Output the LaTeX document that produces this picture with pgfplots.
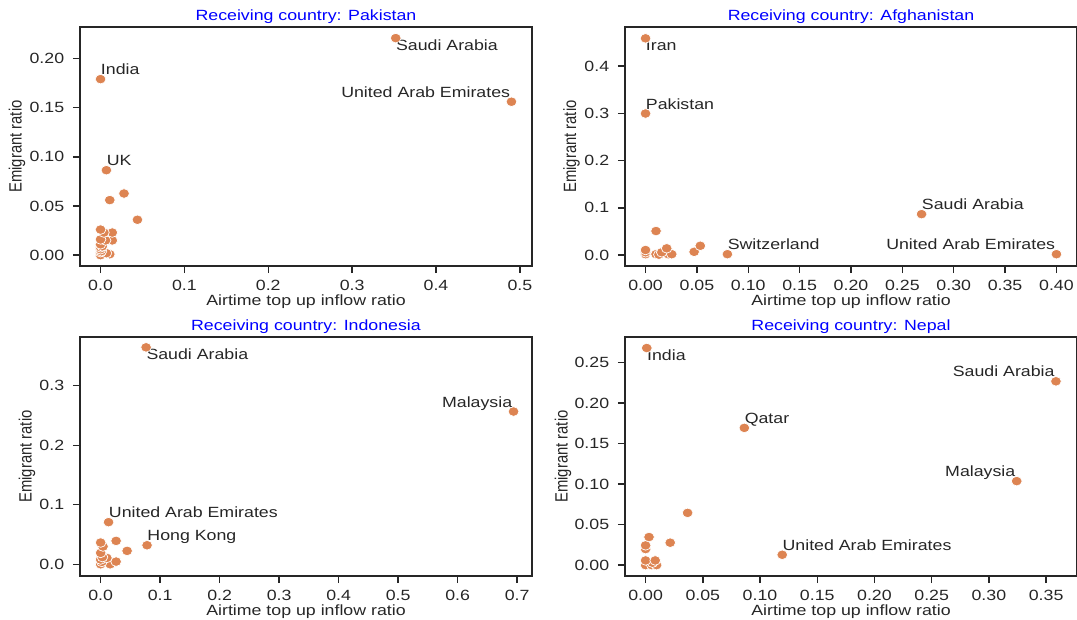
\documentclass[border=0pt]{standalone}
\usepackage{fontspec}
\setmainfont{Liberation Sans}[FakeStretch=1.2]
\newfontfamily\ylabfont{Liberation Sans}
\usepackage{graphicx}
\usepackage{pgfplots}
\pgfplotsset{compat=1.18}
\definecolor{c15}{HTML}{262626}
\definecolor{dot}{HTML}{DD8452}
\newcommand{\fs}{\fontsize{7.4}{8.5}\selectfont}
\tikzset{lab/.style={font=\fs, text=c15, inner sep=0pt}}
\pgfplotsset{
  every axis title/.style={at={(axis description cs:0.5,1)}, anchor=base, yshift=3.3pt, font=\fs, text=blue},
  every axis x label/.style={at={(axis description cs:0.5,0)}, anchor=base, yshift=-19.8pt, font=\fs, text=c15},
  every axis y label/.style={rotate=90, anchor=center, font=\ylabfont\fs, text=c15},
  panel/.style={
    width=226pt, height=119.5pt, scale only axis, anchor=south west, clip=false,
    axis line style={draw=c15, line width=0.7pt},
    every tick/.style={draw=c15, line width=0.7pt},
    tick align=outside, major tick length=3.6pt, tick pos=left,
    ticklabel style={font=\fs, text=c15},
    yticklabel style={xshift=-0.8pt},
    /pgf/number format/assume math mode=true,
    xlabel={Airtime top up inflow ratio}, ylabel={\scalebox{1}[1.2]{Emigrant ratio}},
  },
  yl/.style={ylabel style={at={(axis description cs:#1,0.5)}}},
  xp/.style={xticklabel style={/pgf/number format/.cd, fixed, fixed zerofill, precision=#1}},
  yp/.style={yticklabel style={/pgf/number format/.cd, fixed, fixed zerofill, precision=#1}},
  pts/.style={only marks, mark=*, mark size=2.4pt, mark options={fill=dot, draw=white, line width=0.35pt, xscale=1.12}},
}
\begin{document}
\begin{tikzpicture}
\useasboundingbox (0,0) rectangle (538.5pt,310pt);
% Panel 1: Pakistan
\begin{axis}[panel, at={(40pt,177pt)},
  title={Receiving country: Pakistan},
  xmin=-0.0245, xmax=0.5145, ymin=-0.011, ymax=0.232,
  xtick={0,0.1,0.2,0.3,0.4,0.5}, ytick={0,0.05,0.1,0.15,0.2},
  xp=1, yp=2, yl=-0.1394]
\addplot[pts] coordinates {
(0.0,0.0) (0.011,0.001) (0.007,0.002) (0.0,0.003) (0.001,0.004) (0.0,0.006) (0.0,0.008) (0.002,0.009)
(0.0,0.011) (0.014,0.015) (0.006,0.015) (0.0,0.016) (0.014,0.023) (0.004,0.023) (0.0,0.026)
(0.044,0.036) (0.011,0.056) (0.028,0.0627) (0.007,0.0864) (0.0,0.179) (0.490,0.156) (0.352,0.2207)
};
\node[lab, anchor=base west, yshift=-6.3pt] at (axis cs:0.352,0.2207) {Saudi Arabia};
\node[lab, anchor=base east, xshift=-0.5pt, yshift=2.25pt] at (axis cs:0.490,0.156) {United Arab Emirates};
\node[lab, anchor=base west, yshift=2.25pt] at (axis cs:0.0,0.179) {India};
\node[lab, anchor=base west, yshift=2.25pt] at (axis cs:0.007,0.0864) {UK};
\end{axis}
% Panel 2: Afghanistan
\begin{axis}[panel, at={(312.5pt,177pt)},
  title={Receiving country: Afghanistan},
  xmin=-0.02, xmax=0.42, ymin=-0.023, ymax=0.483,
  xtick={0,0.05,0.1,0.15,0.2,0.25,0.3,0.35,0.4}, ytick={0,0.1,0.2,0.3,0.4},
  xp=2, yp=1, yl=-0.1181]
\addplot[pts] coordinates {
(0,0.002) (0.0102,0.002) (0.013,0.001) (0.022,0.002) (0.0255,0.002) (0.0158,0.006) (0,0.006) (0,0.0108)
(0.0206,0.0144) (0.0473,0.007) (0.0533,0.0198) (0.0102,0.051) (0.0797,0.002) (0.40,0.002)
(0.2687,0.0868) (0,0.2998) (0,0.459)
};
\node[lab, anchor=base west, yshift=-6.3pt] at (axis cs:0,0.459) {Iran};
\node[lab, anchor=base west, yshift=2.25pt] at (axis cs:0,0.2998) {Pakistan};
\node[lab, anchor=base west, yshift=2.25pt] at (axis cs:0.2687,0.0868) {Saudi Arabia};
\node[lab, anchor=base west, yshift=2.25pt] at (axis cs:0.0797,0.002) {Switzerland};
\node[lab, anchor=base east, xshift=-0.5pt, yshift=2.25pt] at (axis cs:0.40,0.002) {United Arab Emirates};
\end{axis}
% Panel 3: Indonesia
\begin{axis}[panel, at={(40pt,22pt)},
  title={Receiving country: Indonesia},
  xmin=-0.0347, xmax=0.725, ymin=-0.0197, ymax=0.382,
  xtick={0,0.1,0.2,0.3,0.4,0.5,0.6,0.7}, ytick={0,0.1,0.2,0.3},
  xp=1, yp=1, yl=-0.1173]
\addplot[pts] coordinates {
(0,0) (0.016,0) (0.026,0.0045) (0.002,0.004) (0,0.008) (0.0104,0.0107) (0.003,0.012) (0,0.0191)
(0.004,0.0298) (0,0.0365) (0.0445,0.0225) (0.026,0.0393) (0.078,0.032) (0.0133,0.0708)
(0.694,0.2567) (0.0764,0.3646)
};
\node[lab, anchor=base west, yshift=-6.3pt] at (axis cs:0.0764,0.3646) {Saudi Arabia};
\node[lab, anchor=base east, xshift=-0.5pt, yshift=2.25pt] at (axis cs:0.694,0.2567) {Malaysia};
\node[lab, anchor=base west, yshift=2.25pt] at (axis cs:0.0133,0.0708) {United Arab Emirates};
\node[lab, anchor=base west, yshift=2.25pt] at (axis cs:0.078,0.032) {Hong Kong};
\end{axis}
% Panel 4: Nepal
\begin{axis}[panel, at={(312.5pt,22pt)},
  title={Receiving country: Nepal},
  xmin=-0.018, xmax=0.377, ymin=-0.0134, ymax=0.2816,
  xtick={0,0.05,0.1,0.15,0.2,0.25,0.3,0.35}, ytick={0,0.05,0.1,0.15,0.2,0.25},
  xp=2, yp=2, yl=-0.1372]
\addplot[pts] coordinates {
(0,0) (0.0054,0) (0.0096,0) (0.006,0.003) (0,0.0058) (0.0084,0.0058) (0,0.0198) (0,0.0244)
(0.0215,0.0277) (0.003,0.0347) (0.0367,0.0645) (0.1194,0.0128) (0.3243,0.1037) (0.0863,0.1694)
(0.3586,0.2269) (0.001,0.268)
};
\node[lab, anchor=base west, yshift=-6.3pt] at (axis cs:0.001,0.268) {India};
\node[lab, anchor=base east, xshift=-0.5pt, yshift=2.25pt] at (axis cs:0.3586,0.2269) {Saudi Arabia};
\node[lab, anchor=base west, yshift=2.25pt] at (axis cs:0.0863,0.1694) {Qatar};
\node[lab, anchor=base east, xshift=-0.5pt, yshift=2.25pt] at (axis cs:0.3243,0.1037) {Malaysia};
\node[lab, anchor=base west, yshift=2.25pt] at (axis cs:0.1194,0.0128) {United Arab Emirates};
\end{axis}
\end{tikzpicture}
\end{document}
